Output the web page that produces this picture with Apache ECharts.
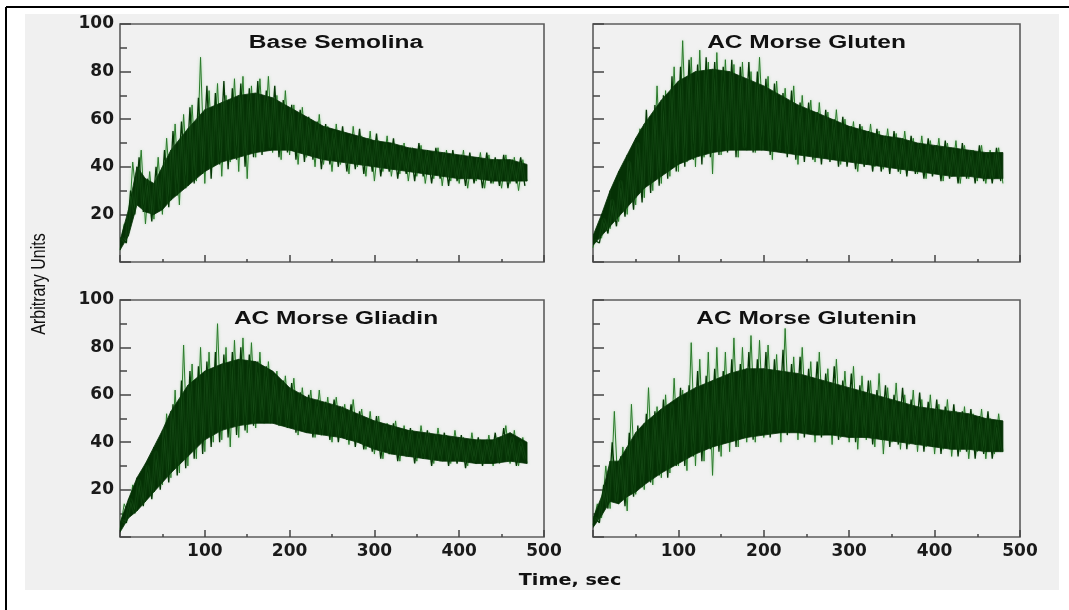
<!DOCTYPE html>
<html><head><meta charset="utf-8">
<script src="https://cdn.jsdelivr.net/npm/echarts@6/dist/echarts.min.js"></script>
<style>html,body{margin:0;padding:0;background:#fff}#c{width:1069px;height:610px}</style>
</head><body><div id="c"></div>
<script>
// ---------- data ----------
const panelTitles = ['Base Semolina', 'AC Morse Gluten', 'AC Morse Gliadin', 'AC Morse Glutenin'];
const xAxisTitle = 'Time, sec';
const yAxisTitle = 'Arbitrary Units';

// sample times (sec) of the noisy trace, two interleaved sample sets
const noiseTA = [0,5,10,15,20,25,30,35,40,45,50,55,60,65,70,75,80,85,90,95,100,105,110,115,120,125,130,135,140,145,150,155,160,165,170,175,180,185,190,195,200,205,210,215,220,225,230,235,240,245,250,255,260,265,270,275,280,285,290,295,300,305,310,315,320,325,330,335,340,345,350,355,360,365,370,375,380,385,390,395,400,405,410,415,420,425,430,435,440,445,450,455,460,465,470,475,480];
const noiseTB = [2.5,7.5,12.5,17.5,22.5,27.5,32.5,37.5,42.5,47.5,52.5,57.5,62.5,67.5,72.5,77.5,82.5,87.5,92.5,97.5,102.5,107.5,112.5,117.5,122.5,127.5,132.5,137.5,142.5,147.5,152.5,157.5,162.5,167.5,172.5,177.5,182.5,187.5,192.5,197.5,202.5,207.5,212.5,217.5,222.5,227.5,232.5,237.5,242.5,247.5,252.5,257.5,262.5,267.5,272.5,277.5,282.5,287.5,292.5,297.5,302.5,307.5,312.5,317.5,322.5,327.5,332.5,337.5,342.5,347.5,352.5,357.5,362.5,367.5,372.5,377.5,382.5,387.5,392.5,397.5,402.5,407.5,412.5,417.5,422.5,427.5,432.5,437.5,442.5,447.5,452.5,457.5,462.5,467.5,472.5,477.5];

const semolinaA = [5,16,12,42,24,47,16,38,18,44, 20,52,26,58,24,62,32,66,34,86, 33,72,40,75,36,70,42,77,38,78, 35,74,44,77,47,78,46,70,43,72, 45,66,41,65,44,60,40,62,41,57, 38,58,41,54,37,57,40,53,36,55, 34,51,38,53,36,49,37,50,34,48, 36,49,33,46,35,48,32,47,34,45, 33,47,31,44,34,46,31,45,33,43, 31,45,33,44,30,43,34];
const semolinaB = [10,8,30,20,44,21,35,17,40,22, 47,23,55,28,59,31,65,33,69,37, 74,35,71,41,76,39,73,43,75,40, 73,44,76,45,72,48,74,44,68,46, 66,43,64,42,61,43,59,39,58,41, 55,40,57,38,53,39,56,37,52,38, 54,36,50,38,52,35,49,37,48,34, 50,36,47,33,48,35,46,32,47,34, 45,32,46,33,44,31,46,33,44,32, 45,31,43,33,44,32];
const glutenA = [6,14,10,22,14,30,17,40,20,45, 24,56,27,60,30,74,33,72,36,82, 38,93,42,86,40,89,44,84,37,88, 45,85,48,83,44,84,47,80,46,86, 49,78,43,76,48,73,46,74,41,70, 45,68,42,67,44,63,43,64,41,60, 43,59,38,57,41,58,40,55,39,56, 40,54,37,55,39,52,37,53,35,51, 37,52,34,50,36,51,33,49,35,47, 34,49,33,47,35,48,33];
const glutenB = [9,8,18,12,26,15,34,19,42,22, 50,25,64,29,66,32,70,35,78,38, 82,40,85,43,83,41,86,44,84,45, 82,46,85,44,82,48,84,46,80,47, 77,45,75,47,71,44,72,43,67,42, 67,43,63,41,64,42,60,40,61,40, 57,39,58,40,55,38,56,38,53,37, 55,38,52,36,53,37,50,35,52,36, 49,34,51,35,48,33,50,35,47,33, 49,34,46,33,48,34];
const gliadinA = [3,14,9,22,12,27,15,32,19,40, 22,52,25,62,27,81,30,73,33,80, 36,78,40,90,41,80,38,83,42,84, 44,82,46,78,48,74,49,70,47,68, 46,67,43,63,45,62,42,62,43,59, 40,59,42,56,39,58,40,54,37,53, 35,51,33,48,35,49,32,47,34,45, 32,47,34,44,31,46,33,43,31,45, 32,42,30,44,31,41,32,43,30,42, 33,47,31,45,30,42,31];
const gliadinB = [7,6,16,10,24,13,30,16,36,20, 46,23,56,26,66,29,70,33,72,35, 74,38,78,40,77,42,78,43,80,45, 77,47,74,49,72,48,68,47,66,46, 65,44,61,45,60,42,58,43,57,41, 58,40,55,41,56,38,53,37,50,36, 51,33,47,35,48,32,45,34,46,31, 44,33,45,30,43,32,44,30,42,31, 43,29,41,32,42,30,41,32,44,31, 46,32,42,30,40,33];
const gluteninA = [5,14,8,30,12,53,14,38,11,56, 18,44,20,63,22,55,25,60,27,67, 30,62,28,82,30,75,32,78,26,80, 34,78,36,84,38,80,40,85,40,83, 42,81,45,77,40,88,44,76,41,80, 44,74,40,78,43,71,39,75,42,70, 40,72,37,68,41,66,38,69,35,63, 40,65,37,60,39,62,36,58,38,60, 35,56,37,58,34,53,36,55,33,52, 36,54,33,50,35,52,36];
const gluteninB = [8,6,22,12,40,15,34,13,44,17, 47,21,52,23,53,26,58,25,56,30, 63,30,64,34,70,32,68,37,71,36, 70,40,75,38,73,42,78,41,75,44, 78,42,75,45,79,43,73,45,76,42, 71,45,74,42,69,44,72,41,66,43, 69,40,64,42,66,39,62,41,64,38, 60,39,63,37,58,39,61,36,57,38, 58,35,55,37,56,34,53,36,54,33, 51,35,53,33,49,36];

// dense core band (lower / upper edge)
const bandT = [0,10,20,30,40,50,60,80,100,120,140,160,180,200,220,240,260,280,300,320,340,360,380,400,420,440,460,480];
const semolinaLo = [5,11,24,21,20,22,26,32,38,42,44,46,47,47,45,43,42,41,40,39,38,37,36,35,35,34,34,34];
const semolinaHi = [9,22,40,35,33,40,47,56,64,67,70,71,69,65,61,57,55,53,51,50,48,47,46,45,44,43,43,41];
const glutenLo = [7,11,15,19,23,27,31,36,41,44,46,47,47,47,46,45,44,43,42,41,40,39,38,37,36,36,35,35];
const glutenHi = [11,20,30,38,45,52,58,68,76,80,81,80,77,74,70,66,63,60,57,55,53,52,50,49,48,47,46,46];
const gliadinLo = [2,8,11,15,19,23,27,34,41,45,47,48,48,46,44,43,42,40,37,35,34,33,32,32,31,31,32,31];
const gliadinHi = [6,16,25,31,38,45,53,64,70,73,75,74,70,63,59,57,55,52,49,47,45,44,43,42,41,41,44,40];
const gluteninLo = [4,9,15,14,17,19,22,27,31,35,38,40,42,43,44,44,43,43,42,42,41,40,39,38,37,37,36,36];
const gluteninHi = [8,17,32,32,38,44,48,54,59,63,66,69,71,71,70,69,67,65,63,61,59,57,55,54,53,52,50,49];

const xTicks = [0,100,200,300,400,500];
const yTicks = [0,20,40,60,80,100];

const noiseASets = [semolinaA, glutenA, gliadinA, gluteninA];
const noiseBSets = [semolinaB, glutenB, gliadinB, gluteninB];
const loSets = [semolinaLo, glutenLo, gliadinLo, gluteninLo];
const hiSets = [semolinaHi, glutenHi, gliadinHi, gluteninHi];

// ---------- layout ----------
const gridBoxes = [
  {left:120, top:24, width:424, height:238},
  {left:593, top:24, width:427, height:238},
  {left:120, top:300, width:424, height:237},
  {left:593, top:300, width:427, height:237}
];
const labelFont = {color:'#1a1a1a', fontFamily:'DejaVu Sans', fontWeight:'bold', fontSize:17};
const bandColor = '#053105';
const traceAStyle = {color:'#2a7a2a', width:1, shadowColor:'rgba(110,200,110,0.6)', shadowBlur:3};
const traceBStyle = {color:'#063606', width:1.3, shadowColor:'rgba(100,190,100,0.4)', shadowBlur:2};

function bandRender(params, api) {
  const p0 = api.coord([api.value(0), api.value(1)]);
  const p1 = api.coord([api.value(3), api.value(4)]);
  const p2 = api.coord([api.value(3), api.value(5)]);
  const p3 = api.coord([api.value(0), api.value(2)]);
  return {type:'polygon', shape:{points:[p0, p1, p2, p3]},
    style:{fill:bandColor, stroke:bandColor, lineWidth:0.8}};
}

const grid = [], xAxis = [], yAxis = [], series = [], graphic = [];
gridBoxes.forEach((g, i) => {
  grid.push(Object.assign({show:true, borderColor:'#5c5c5c', borderWidth:1.6, backgroundColor:'#f1f1f1', containLabel:false}, g));
  const bottomRow = i >= 2, leftCol = i % 2 === 0;
  xAxis.push({gridIndex:i, type:'value', min:xTicks[0], max:xTicks[xTicks.length-1], interval:100,
    axisLine:{show:false}, splitLine:{show:false},
    axisTick:{show:true, inside:true, length:7, lineStyle:{color:'#444', width:1.5}},
    minorTick:{show:true, splitNumber:2, length:3, lineStyle:{color:'#444', width:1.5}},
    axisLabel:Object.assign({show:bottomRow, margin:6, formatter:v => v === 0 ? '' : String(v)}, labelFont)});
  yAxis.push({gridIndex:i, type:'value', min:yTicks[0], max:yTicks[yTicks.length-1], interval:20,
    axisLine:{show:false}, splitLine:{show:false},
    axisTick:{show:true, inside:true, length:11, lineStyle:{color:'#444', width:1.5}},
    minorTick:{show:true, splitNumber:2, length:7, lineStyle:{color:'#444', width:1.5}},
    axisLabel:Object.assign({show:leftCol, margin:6, formatter:v => v === 0 ? '' : String(v)}, labelFont)});
  const lo = loSets[i], hi = hiSets[i];
  const quads = [];
  for (let k = 0; k < bandT.length - 1; k++) quads.push([bandT[k], lo[k], hi[k], bandT[k+1], lo[k+1], hi[k+1]]);
  series.push({type:'line', xAxisIndex:i, yAxisIndex:i, z:1, symbol:'none', animation:false,
    data: noiseTA.map((t, k) => [t, noiseASets[i][k]]), lineStyle:traceAStyle});
  series.push({type:'custom', xAxisIndex:i, yAxisIndex:i, z:2, animation:false, renderItem:bandRender,
    encode:{x:[0,3], y:[1,2,4,5]}, data:quads, clip:true});
  series.push({type:'line', xAxisIndex:i, yAxisIndex:i, z:4, symbol:'none', animation:false,
    data: noiseTB.map((t, k) => [t, noiseBSets[i][k]]), lineStyle:traceBStyle});
  graphic.push({type:'text', x:g.left + g.width/2 + (leftCol ? 4 : 0), y:g.top + 19, z:10, scaleX:1.4,
    style:{text:panelTitles[i], font:'bold 17.5px "Liberation Sans", Arial', fill:'#111', textAlign:'center', textVerticalAlign:'middle'}});
});

graphic.unshift(
  {type:'rect', shape:{x:25, y:14, width:1034, height:576}, style:{fill:'#f0f0f0'}, z:-10},
  {type:'line', shape:{x1:6, y1:7, x2:1069, y2:7}, style:{stroke:'#000', lineWidth:2}, z:-5},
  {type:'line', shape:{x1:6, y1:7, x2:6, y2:610}, style:{stroke:'#000', lineWidth:2}, z:-5}
);
graphic.push(
  {type:'text', x:39, y:284, rotation:Math.PI/2, scaleY:1.25, z:10,
    style:{text:yAxisTitle, font:'16px "Liberation Sans", Arial', fill:'#111', textAlign:'center', textVerticalAlign:'middle'}},
  {type:'text', x:570, y:581, scaleX:1.2, z:10,
    style:{text:xAxisTitle, font:'bold 16px "DejaVu Sans"', fill:'#111', textAlign:'center', textVerticalAlign:'middle'}}
);

const chart = echarts.init(document.getElementById('c'), null, {renderer:'canvas'});
chart.setOption({animation:false, backgroundColor:'#ffffff', grid, xAxis, yAxis, series, graphic});
</script></body></html>
